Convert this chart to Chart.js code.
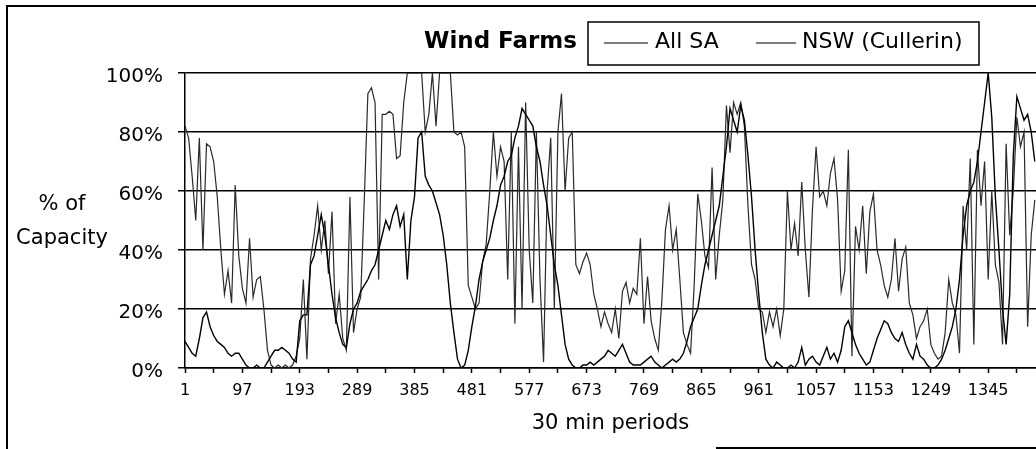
<!DOCTYPE html>
<html>
<head>
<meta charset="utf-8">
<title>Wind Farms - % of Capacity</title>
<script src="https://cdn.jsdelivr.net/npm/chart.js@4"></script>
<style>
  html, body { margin: 0; padding: 0; background: #fff; overflow: hidden; }
</style>
</head>
<body>
<canvas id="chart" width="1036" height="449"></canvas>
<script>
// readings every 6 half-hour periods, % of installed capacity
const allSA = [
  9, 7, 5, 4, 10, 17, 19, 14, 11, 9,
  8, 7, 5, 4, 5, 5, 3, 1, 0, 0,
  1, 0, 0, 2, 4, 6, 6, 7, 6, 5,
  3, 2, 16, 18, 18, 35, 38, 45, 52, 45,
  35, 25, 17, 12, 8, 7, 15, 20, 22, 26,
  28, 30, 33, 35, 40, 45, 50, 47, 52, 55,
  48, 52, 30, 50, 58, 78, 80, 65, 62, 60,
  56, 52, 45, 35, 22, 12, 3, 0, 1, 6,
  14, 21, 30, 36, 40, 44, 50, 55, 62, 65,
  70, 72, 78, 82, 88, 86, 84, 82, 75, 70,
  62, 55, 45, 35, 28, 18, 8, 3, 1, 0,
  0, 1, 1, 2, 1, 2, 3, 4, 6, 5,
  4, 6, 8, 5, 2, 1, 1, 1, 2, 3,
  4, 2, 1, 0, 1, 2, 3, 2, 3, 5,
  9, 14, 17, 20, 28, 35, 40, 45, 50, 55,
  65, 75, 88, 84, 80, 89, 84, 72, 58, 40,
  25, 12, 3, 1, 0, 2, 1, 0, 0, 1,
  0, 2, 7, 1, 3, 4, 2, 1, 4, 7,
  3, 5, 2, 6, 14, 16, 12, 8, 5, 3,
  1, 2, 6, 10, 13, 16, 15, 12, 10, 9,
  12, 8, 5, 3, 8, 4, 3, 1, 0, 0,
  1, 3, 6, 10, 14, 20, 30, 45, 55, 60,
  63, 70, 80, 90, 100, 85, 58, 40, 20, 8,
  25, 72, 92, 88, 84, 86, 80, 70
];
const nswCullerin = [
  82, 78, 65, 50, 78, 40, 76, 75, 70, 58,
  40, 25, 33, 22, 62, 38, 27, 22, 44, 24,
  30, 31, 20, 6, 1, 0, 1, 0, 1, 0,
  1, 4, 10, 30, 3, 37, 45, 55, 40, 50,
  32, 53, 15, 25, 10, 6, 58, 12, 20, 24,
  57, 93, 95, 90, 30, 86, 86, 87, 86, 71,
  72, 90, 100, 100, 100, 100, 100, 80, 86, 100,
  82, 100, 100, 100, 100, 80, 79, 80, 75, 28,
  24, 20, 22, 36, 42, 60, 80, 65, 75, 70,
  30, 80, 15, 75, 20, 90, 40, 22, 80, 30,
  2, 60, 78, 20, 80, 93, 60, 78, 80, 35,
  32, 36, 39, 35, 25, 20, 14, 19, 15, 12,
  20, 10, 26, 29, 22, 27, 25, 44, 15, 31,
  16, 10, 6, 23, 47, 55, 40, 47, 30, 12,
  8, 5, 28, 59, 50, 38, 34, 68, 30, 45,
  57, 89, 73, 90, 86, 90, 82, 55, 35, 30,
  20, 19, 12, 19, 14, 20, 11, 20, 60, 40,
  49, 38, 63, 40, 24, 54, 75, 58, 60, 55,
  66, 71, 57, 26, 33, 74, 4, 48, 40, 55,
  32, 53, 59, 40, 35, 28, 24, 30, 44, 26,
  37, 41, 22, 18, 10, 14, 16, 20, 8, 5,
  3, 4, 12, 30, 22, 18, 5, 55, 40, 71,
  8, 74, 55, 70, 30, 60, 35, 29, 8, 76,
  45, 60, 85, 75, 80, 14, 45, 57
];
const periodStep = 6;
const periods = allSA.map((_, i) => 1 + i * periodStep);

const xTickPeriods = [1, 49, 97, 145, 193, 241, 289, 337, 385, 433, 481, 529, 577, 625, 673,
  721, 769, 817, 865, 913, 961, 1009, 1057, 1105, 1153, 1201, 1249, 1297, 1345, 1393];
const xLabelPeriods = [1, 97, 193, 289, 385, 481, 577, 673, 769, 865, 961, 1057, 1153, 1249, 1345];
const yTickValues = [0, 20, 40, 60, 80, 100];
const yTitleLines = ['% of', 'Capacity'];
const legendTitle = 'Wind Farms';

const FONT = '"DejaVu Sans", "Liberation Sans", sans-serif';
Chart.defaults.font.family = FONT;
Chart.defaults.color = '#000';

// frame, y title and boxed legend are drawn by hand, like the scanned sheet
const chartFrame = {
  id: 'chartFrame',
  afterDraw(chart) {
    const { ctx, width, height } = chart;
    ctx.save();
    ctx.strokeStyle = '#000';
    ctx.fillStyle = '#000';

    ctx.lineWidth = 2;
    ctx.beginPath();
    ctx.moveTo(7, height);
    ctx.lineTo(7, 6);
    ctx.lineTo(width, 6);
    ctx.moveTo(716, 448);
    ctx.lineTo(width, 448);
    ctx.stroke();

    ctx.font = '21px ' + FONT;
    ctx.textAlign = 'center';
    ctx.textBaseline = 'middle';
    yTitleLines.forEach((line, k) => ctx.fillText(line, 62, 205 + k * 34));

    ctx.font = 'bold 23px ' + FONT;
    ctx.textAlign = 'right';
    ctx.fillText(legendTitle, 577, 42);

    ctx.lineWidth = 1.5;
    ctx.strokeRect(588, 22, 391, 43);

    const items = [
      { lineX: 604, lineW: 44, textX: 655 },
      { lineX: 756, lineW: 40, textX: 802 },
    ];
    ctx.font = '22px ' + FONT;
    ctx.textAlign = 'left';
    chart.data.datasets.forEach((ds, k) => {
      const it = items[k];
      ctx.strokeStyle = '#000';
      ctx.lineWidth = 1.2;
      ctx.beginPath();
      ctx.moveTo(it.lineX, 43);
      ctx.lineTo(it.lineX + it.lineW, 43);
      ctx.stroke();
      ctx.fillText(ds.label, it.textX, 42);
    });
    ctx.restore();
  }
};

const toPoints = (values) => values.map((v, i) => ({ x: periods[i], y: v }));

new Chart(document.getElementById('chart'), {
  type: 'line',
  data: {
    datasets: [
      {
        label: 'All SA',
        data: toPoints(allSA),
        borderColor: '#000',
        borderWidth: 1.4,
        pointRadius: 0,
        tension: 0,
      },
      {
        label: 'NSW (Cullerin)',
        data: toPoints(nswCullerin),
        borderColor: '#2a2a2a',
        borderWidth: 1.2,
        pointRadius: 0,
        tension: 0,
      },
    ],
  },
  options: {
    responsive: false,
    animation: false,
    layout: { padding: { top: 73, right: 0, bottom: 0, left: 0 } },
    scales: {
      x: {
        type: 'linear',
        min: 1,
        max: 1425,
        afterBuildTicks: (s) => { s.ticks = xTickPeriods.map((v) => ({ value: v })); },
        afterFit: (s) => { s.height = 81; },
        grid: { drawOnChartArea: false, drawTicks: true, tickLength: 5, tickColor: '#000', tickWidth: 1.5 },
        border: { color: '#000', width: 1.5 },
        ticks: {
          autoSkip: false,
          maxRotation: 0,
          padding: 8,
          font: { size: 16 },
          callback: (v) => (xLabelPeriods.includes(v) ? String(v) : ''),
        },
        title: {
          display: true,
          text: '30 min periods',
          font: { size: 21 },
          padding: { top: 0, bottom: 13 },
        },
      },
      y: {
        min: 0,
        max: 100,
        afterBuildTicks: (s) => { s.ticks = yTickValues.map((v) => ({ value: v })); },
        afterFit: (s) => { s.width = 185; },
        grid: { color: '#000', lineWidth: 1.5, tickLength: 7 },
        border: { color: '#000', width: 1.5 },
        ticks: {
          padding: 15,
          labelOffset: 4,
          font: { size: 20 },
          callback: (v) => v + '%',
        },
      },
    },
    plugins: {
      legend: { display: false },
      tooltip: { enabled: false },
    },
  },
  plugins: [chartFrame],
});
</script>
</body>
</html>
